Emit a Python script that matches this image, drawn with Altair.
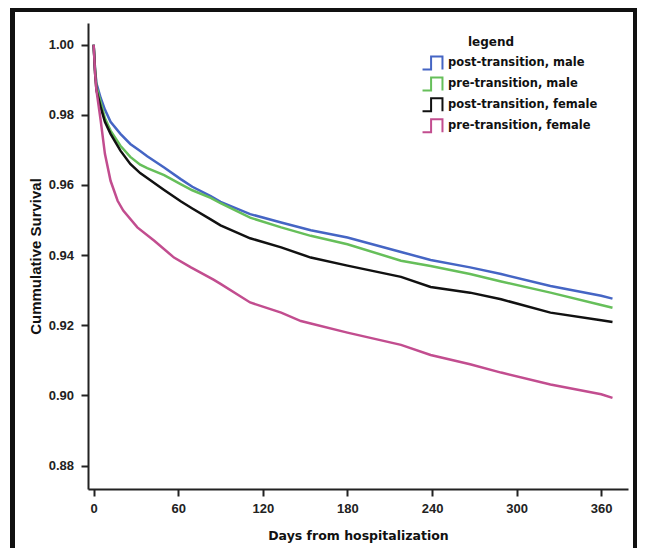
import altair as alt
import pandas as pd

# ---- data ----
series_names = [
    "post-transition, male",
    "pre-transition, male",
    "post-transition, female",
    "pre-transition, female",
]
series_colors = ["#4565c4", "#66bf5a", "#111111", "#c24d8f"]

days_post_male = [0, 1, 2, 5, 8, 12, 19, 26, 33, 38, 50, 62, 70, 83, 90, 111, 133, 154, 180, 218, 239, 267, 289, 324, 360, 368]
surv_post_male = [1.0, 0.993, 0.989, 0.9848, 0.9815, 0.978, 0.9746, 0.9717, 0.9697, 0.9682, 0.965, 0.9616, 0.9595, 0.9568, 0.9552, 0.9517, 0.9493, 0.9471, 0.945, 0.9409, 0.9386, 0.9365, 0.9346, 0.9312, 0.9284, 0.9276]

days_pre_male = [0, 1, 2, 5, 8, 12, 19, 26, 33, 38, 50, 62, 70, 83, 90, 111, 133, 154, 180, 218, 239, 267, 289, 324, 360, 368]
surv_pre_male = [1.0, 0.993, 0.988, 0.9836, 0.979, 0.9755, 0.9712, 0.968, 0.9658, 0.9648, 0.9628, 0.9602, 0.9585, 0.9563, 0.9548, 0.9507, 0.9479, 0.9455, 0.9431, 0.9384, 0.9369, 0.9346, 0.9325, 0.9293, 0.9258, 0.925]

days_post_female = [0, 1, 2, 5, 8, 12, 19, 26, 33, 38, 50, 62, 70, 83, 90, 111, 133, 154, 180, 218, 239, 267, 289, 324, 360, 368]
surv_post_female = [1.0, 0.992, 0.987, 0.9822, 0.978, 0.9746, 0.9698, 0.966, 0.9634, 0.962, 0.9586, 0.9553, 0.9533, 0.9502, 0.9485, 0.9448, 0.9422, 0.9393, 0.9370, 0.9338, 0.9309, 0.9293, 0.9274, 0.9236, 0.9214, 0.9209]

days_pre_female = [0, 1, 2, 5, 8, 12, 17, 21, 31, 43, 57, 69, 85, 90, 111, 133, 147, 154, 180, 218, 239, 267, 289, 324, 360, 368]
surv_pre_female = [1.0, 0.992, 0.987, 0.9784, 0.9689, 0.9612, 0.9555, 0.9527, 0.9479, 0.9441, 0.9393, 0.9365, 0.9330, 0.9318, 0.9265, 0.9236, 0.9212, 0.9205, 0.9179, 0.9144, 0.9115, 0.9089, 0.9065, 0.9031, 0.9003, 0.8993]

x_ticks = [0, 60, 120, 180, 240, 300, 360]
y_ticks = [0.88, 0.90, 0.92, 0.94, 0.96, 0.98, 1.00]
legend_title = ["legend"]

rows = []
for name, dd, ss in zip(
    series_names,
    [days_post_male, days_pre_male, days_post_female, days_pre_female],
    [surv_post_male, surv_pre_male, surv_post_female, surv_pre_female],
):
    for i, (d, s) in enumerate(zip(dd, ss)):
        rows.append({"series": name, "day": d, "surv": s, "idx": i})
df = pd.DataFrame(rows)

W, H = 540, 466
font_lab = "Liberation Sans"
font_title = "DejaVu Sans"

step_path = "M-1.41,0.92 L-0.2,0.92 L-0.2,-0.92 L1.41,-0.92 L1.41,0.92"

lines = alt.Chart(df).mark_line(strokeWidth=2.5, clip=True).encode(
    x=alt.X("day:Q",
            scale=alt.Scale(domain=[-4, 379], nice=False, zero=False),
            axis=alt.Axis(values=x_ticks, title="Days from hospitalization",
                          titleX=270, titleY=46, titleBaseline="middle",
                          titleFont=font_title, titleFontSize=12.5, titleFontWeight="bold",
                          labelFlush=False, labelPadding=6)),
    y=alt.Y("surv:Q",
            scale=alt.Scale(domain=[0.8733, 1.0062], nice=False, zero=False),
            axis=alt.Axis(values=y_ticks, format=".2f", title="Cummulative Survival",
                          titleX=-53, titleY=233, titleAngle=-90, titleBaseline="middle",
                          titleFont=font_lab, titleFontSize=15, titleFontWeight="bold",
                          labelPadding=7.5)),
    color=alt.Color("series:N",
                    scale=alt.Scale(domain=series_names, range=series_colors),
                    legend=alt.Legend(title=None, orient="none", legendX=336, legendY=31.5,
                                      padding=0,
                                      labelFont=font_title, labelFontSize=11.5,
                                      labelFontWeight="bold", labelColor="#111",
                                      symbolType=step_path, symbolSize=200,
                                      symbolStrokeWidth=2, symbolFillColor="transparent",
                                      rowPadding=-2.1, labelOffset=7)),
    order="idx:Q",
)

title_txt = alt.Chart(pd.DataFrame({"t": legend_title})).mark_text(
    font=font_title, fontSize=12, fontWeight="bold", color="#111",
    align="center", baseline="middle",
).encode(x=alt.value(403), y=alt.value(19), text="t:N")

frame_left = alt.Chart(df).mark_rule(color="#111", strokeWidth=3.5).encode(
    x=alt.value(-75.5), y=alt.value(-23), y2=alt.value(560))
frame_top = alt.Chart(df).mark_rule(color="#111", strokeWidth=3.5).encode(
    x=alt.value(-77), x2=alt.value(552), y=alt.value(-13.5))
frame_right = alt.Chart(df).mark_rule(color="#111", strokeWidth=3.5).encode(
    x=alt.value(547), y=alt.value(-23), y2=alt.value(560))

chart = alt.layer(lines, title_txt, frame_left, frame_top, frame_right).properties(
    width=W, height=H,
    autosize=alt.AutoSizeParams(type="none"),
    padding={"left": 80, "top": 15, "right": 9, "bottom": 59},
    background="white",
).configure_view(stroke=None).configure_axis(
    domainColor="#222", domainWidth=2, tickColor="#222", tickWidth=2, tickSize=7,
    labelFont=font_lab, labelFontSize=13, labelFontWeight="bold", labelColor="#222",
    grid=False, titleColor="#111",
)

chart.save("out.html", embed_options={"renderer": "svg", "actions": False})
